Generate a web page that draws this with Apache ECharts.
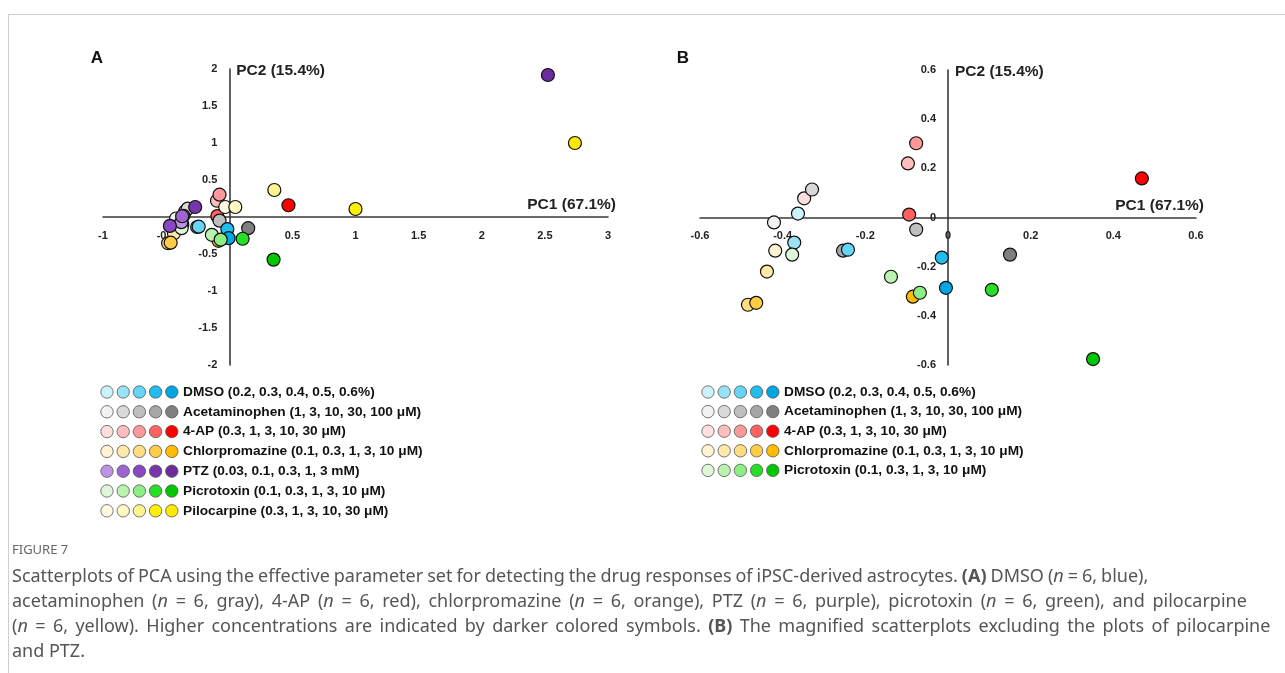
<!DOCTYPE html>
<html>
<head>
<meta charset="utf-8">
<script src="https://cdn.jsdelivr.net/npm/echarts@6/dist/echarts.min.js"></script>
<style>
  html, body { margin: 0; padding: 0; background: #fff; }
  #wrap { position: relative; width: 1285px; height: 673px; overflow: hidden; }
  #frame { position: absolute; left: 8px; top: 14px; right: -2px; bottom: -2px; border-left: 1px solid #cfcfcf; border-top: 1px solid #cfcfcf; }
  #chart { position: absolute; left: 0; top: 0; width: 1285px; height: 673px; }
  #figno { position: absolute; left: 12px; top: 540px; font: 13px "Noto Sans", sans-serif; color: #666; }
  #caption { position: absolute; left: 12px; top: 563px; font: 18px/25px "Noto Sans", sans-serif; color: #555; white-space: nowrap; }
  #caption div { height: 25px; }
</style>
</head>
<body>
<div id="wrap">
  <div id="frame"></div>
  <div id="chart"></div>
  <div id="figno">FIGURE 7</div>
  <div id="caption">
    <div style="word-spacing:-0.7px">Scatterplots of PCA using the effective parameter set for detecting the drug responses of iPSC-derived astrocytes. <b>(A)</b> DMSO (<i>n</i> = 6, blue),</div>
    <div style="word-spacing:3px">acetaminophen (<i>n</i> = 6, gray), 4-AP (<i>n</i> = 6, red), chlorpromazine (<i>n</i> = 6, orange), PTZ (<i>n</i> = 6, purple), picrotoxin (<i>n</i> = 6, green), and pilocarpine</div>
    <div style="word-spacing:2.7px">(<i>n</i> = 6, yellow). Higher concentrations are indicated by darker colored symbols. <b>(B)</b> The magnified scatterplots excluding the plots of pilocarpine</div>
    <div>and PTZ.</div>
  </div>
</div>
<script>
// axis titles
const pc1Label = 'PC1 (67.1%)';
const pc2Label = 'PC2 (15.4%)';

// legend texts
const dmsoName = 'DMSO (0.2, 0.3, 0.4, 0.5, 0.6%)';
const acetName = 'Acetaminophen (1, 3, 10, 30, 100 μM)';
const apName = '4-AP (0.3, 1, 3, 10, 30 μM)';
const cpzName = 'Chlorpromazine (0.1, 0.3, 1, 3, 10 μM)';
const ptzName = 'PTZ (0.03, 0.1, 0.3, 1, 3 mM)';
const picroName = 'Picrotoxin (0.1, 0.3, 1, 3, 10 μM)';
const piloName = 'Pilocarpine (0.3, 1, 3, 10, 30 μM)';

// shades, lowest -> highest concentration
const dmsoColors = ['#ccf2fc', '#99e3f7', '#66d4f2', '#22bdee', '#00a6e3'];
const acetColors = ['#f2f2f2', '#d9d9d9', '#bfbfbf', '#a6a6a6', '#7f7f7f'];
const apColors = ['#ffdede', '#ffbdbd', '#ff9999', '#ff6161', '#ff0000'];
const cpzColors = ['#fff3d1', '#ffe9a8', '#ffdd80', '#ffcd45', '#ffbb00'];
const ptzColors = ['#bf93e3', '#9e64d1', '#8848c2', '#7736ae', '#6b2d9c'];
const picroColors = ['#dff7d9', '#baf3ae', '#8def83', '#26df26', '#00c800'];
const piloColors = ['#fffbe0', '#fff8c2', '#fff48f', '#fff000', '#ffe800'];

// axis ranges [min, max, step]
const rangeAx = [-1, 3, 0.5];
const rangeAy = [-2, 2, 0.5];
const rangeBx = [-0.6, 0.6, 0.2];
const rangeBy = [-0.6, 0.6, 0.2];

// PCA scores [PC1, PC2], one per concentration
const dmsoPts = [[-0.363, 0.016], [-0.372, -0.102], [-0.242, -0.131], [-0.015, -0.163], [-0.005, -0.286]];
const acetPts = [[-0.421, -0.02], [-0.329, 0.114], [-0.077, -0.049], [-0.254, -0.135], [0.150, -0.151]];
const apPts = [[-0.348, 0.078], [-0.097, 0.22], [-0.077, 0.302], [-0.094, 0.012], [0.469, 0.159]];
const cpzPts = [[-0.418, -0.135], [-0.438, -0.22], [-0.484, -0.355], [-0.464, -0.347], [-0.085, -0.322]];
const picroPts = [[-0.377, -0.151], [-0.138, -0.241], [-0.068, -0.306], [0.106, -0.294], [0.351, -0.576]];
const ptzPts = [[-0.38, -0.07], [-0.373, 0.01], [-0.47, -0.12], [-0.27, 0.135], [2.524, 1.919]];
const piloPts = [[-0.032, 0.135], [0.048, 0.135], [0.357, 0.365], [1.0, 0.108], [2.738, 1.0]];

// draw order (later = on top)
const groupsA = [
  [apPts, apColors], [acetPts, acetColors], [dmsoPts, dmsoColors], [cpzPts, cpzColors],
  [picroPts, picroColors], [ptzPts, ptzColors], [piloPts, piloColors]
];
const groupsB = [
  [apPts, apColors], [acetPts, acetColors], [dmsoPts, dmsoColors], [cpzPts, cpzColors],
  [picroPts, picroColors]
];
const legendA = [
  [dmsoName, dmsoColors], [acetName, acetColors], [apName, apColors], [cpzName, cpzColors],
  [ptzName, ptzColors], [picroName, picroColors], [piloName, piloColors]
];
const legendB = [
  [dmsoName, dmsoColors], [acetName, acetColors], [apName, apColors], [cpzName, cpzColors],
  [picroName, picroColors]
];

const grids = [
  { left: 103, top: 69, width: 505, height: 296 },
  { left: 700, top: 70, width: 496, height: 295 }
];

const tickFont = { color: '#222', fontSize: 11, fontWeight: 'bold', fontFamily: 'Liberation Sans' };
const nameFont = { color: '#222', fontSize: 15.5, fontWeight: 'bold', fontFamily: 'Liberation Sans' };
const lineStyle = { color: '#3a3a3a', width: 1.6 };

// axes cross at the origin: shift each axis from the grid edge to the other axis' zero
function makeX(idx, [min, max, step], [ymin, ymax]) {
  const g = grids[idx];
  return {
    gridIndex: idx, type: 'value', min, max, interval: step,
    position: 'bottom', offset: -g.height * (0 - ymin) / (ymax - ymin),
    name: pc1Label, nameLocation: 'end', nameGap: 8,
    nameTextStyle: { ...nameFont, align: 'right', verticalAlign: 'bottom', padding: [0, 0, 4, 0] },
    axisLine: { onZero: false, lineStyle },
    axisTick: { show: false },
    splitLine: { show: false },
    axisLabel: { ...tickFont, margin: 13 }
  };
}

function makeY(idx, [min, max, step], [xmin, xmax], hideZero) {
  const g = grids[idx];
  return {
    gridIndex: idx, type: 'value', min, max, interval: step,
    position: 'left', offset: -g.width * (0 - xmin) / (xmax - xmin),
    name: pc2Label, nameLocation: 'end', nameGap: -2,
    nameTextStyle: { ...nameFont, align: 'left', verticalAlign: 'middle', padding: [0, 0, 0, 7] },
    axisLine: { onZero: false, lineStyle },
    axisTick: { show: false },
    splitLine: { show: false },
    axisLabel: {
      ...tickFont, margin: 12,
      formatter: (v) => (hideZero && v === 0 ? '' : String(v))
    }
  };
}

function makeSeries(groups, idx) {
  return groups.map(([pts, colors]) => ({
    type: 'scatter',
    xAxisIndex: idx, yAxisIndex: idx,
    symbolSize: 13,
    data: pts.map((p, i) => ({ value: p, itemStyle: { color: colors[i] } })),
    itemStyle: { borderColor: '#111', borderWidth: 1.2, opacity: 1 },
    emphasis: { disabled: true }
  }));
}

function makeLegend(items, left, top, step) {
  const els = [];
  items.forEach(([name, colors], r) => {
    const cy = top + r * step;
    colors.forEach((c, j) => {
      els.push({
        type: 'circle', silent: true,
        shape: { cx: left + j * 16.2, cy, r: 6.2 },
        style: { fill: c, stroke: '#555', lineWidth: 0.8 }
      });
    });
    els.push({
      type: 'text', silent: true,
      style: {
        text: name, x: left + 76, y: cy, verticalAlign: 'middle',
        fill: '#111', font: 'bold 13.7px "Liberation Sans"'
      }
    });
  });
  return els;
}

const chart = echarts.init(document.getElementById('chart'), null, { renderer: 'canvas' });
chart.setOption({
  animation: false,
  backgroundColor: 'transparent',
  grid: grids,
  xAxis: [makeX(0, rangeAx, rangeAy), makeX(1, rangeBx, rangeBy)],
  yAxis: [makeY(0, rangeAy, rangeAx, true), makeY(1, rangeBy, rangeBx, false)],
  series: [...makeSeries(groupsA, 0), ...makeSeries(groupsB, 1)],
  graphic: [
    { type: 'text', silent: true, style: { text: 'A', x: 97, y: 58, align: 'center', verticalAlign: 'middle', font: 'bold 17px "Liberation Sans"', fill: '#111' } },
    { type: 'text', silent: true, style: { text: 'B', x: 683, y: 58, align: 'center', verticalAlign: 'middle', font: 'bold 17px "Liberation Sans"', fill: '#111' } },
    ...makeLegend(legendA, 107, 392, 19.8),
    ...makeLegend(legendB, 708, 392, 19.6)
  ]
});
</script>
</body>
</html>
